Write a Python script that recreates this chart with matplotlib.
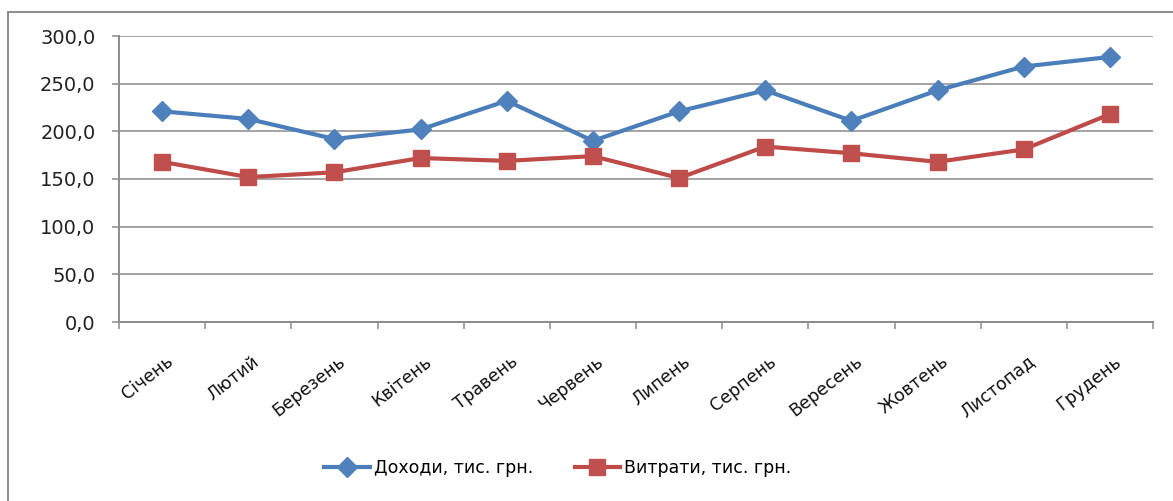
import matplotlib
matplotlib.use("Agg")
import matplotlib.pyplot as plt
from matplotlib.lines import Line2D
from matplotlib.ticker import FixedLocator, FuncFormatter
import matplotlib.transforms as mtransforms

months = ["Січень", "Лютий", "Березень", "Квітень", "Травень", "Червень",
          "Липень", "Серпень", "Вересень", "Жовтень", "Листопад", "Грудень"]
income = [221, 213, 192, 202, 232, 190, 221, 243, 211, 243, 268, 278]
expenses = [168, 152, 157, 172, 169, 174, 151, 184, 177, 168, 181, 218]
income_label = "Доходи, тис. грн."
expenses_label = "Витрати, тис. грн."
yticks = [0, 50, 100, 150, 200, 250, 300]

plt.rcParams['font.family'] = ['DejaVu Sans']

W, H = 1173, 501
fig = plt.figure(figsize=(W / 100, H / 100), dpi=100)
ax = fig.add_axes([119 / W, 1 - 322 / H, (1153 - 119) / W, (322 - 36) / H])

x = list(range(len(months)))
l1, = ax.plot(x, income, color="#4A7EBB", lw=3.0, marker="D", markersize=10.5,
              markerfacecolor="#4F81BD", markeredgecolor="#4F81BD", label=income_label,
              solid_joinstyle="round")
l2, = ax.plot(x, expenses, color="#BE4B48", lw=3.0, marker="s", markersize=12,
              markerfacecolor="#C0504D", markeredgecolor="#C0504D", label=expenses_label,
              solid_joinstyle="round")

ax.set_xlim(-0.5, len(months) - 0.5)
ax.set_ylim(0, 300)

grid_color = "#8C8C8C"
ax.yaxis.set_major_locator(FixedLocator(yticks))
ax.yaxis.set_major_formatter(FuncFormatter(lambda v, p: f"{v:.1f}".replace(".", ",")))
ax.grid(axis="y", color=grid_color, lw=1.1)
ax.set_axisbelow(True)

for s in ["top", "right"]:
    ax.spines[s].set_visible(False)
for s in ["left", "bottom"]:
    ax.spines[s].set_color(grid_color)
    ax.spines[s].set_linewidth(1.4)

ax.tick_params(axis="y", length=5, width=1.1, color=grid_color, pad=12,
               labelsize=14, labelcolor="#222222")

ax.set_xticks(x)
ax.set_xticks([i - 0.5 for i in range(len(months) + 1)], minor=True)
ax.tick_params(axis="x", which="major", length=0, pad=27)
ax.tick_params(axis="x", which="minor", length=5, width=1.1, color=grid_color)
ax.set_xticklabels(months, rotation=38, ha="right", va="center",
                   rotation_mode="anchor", fontsize=12.5, color="#111111")
offset = mtransforms.ScaledTranslation(9 / 100, 0, fig.dpi_scale_trans)
for lbl in ax.get_xticklabels():
    lbl.set_transform(lbl.get_transform() + offset)

fig.legend(handles=[l1, l2], loc="center", bbox_to_anchor=(558 / W, 1 - 468 / H),
           ncol=2, frameon=False, fontsize=12.5, handlelength=2.6,
           handletextpad=0.25, columnspacing=2.4)

border = "#8C8C8C"
fig.add_artist(Line2D([8 / W, 1], [1 - 12 / H, 1 - 12 / H], color=border, lw=1.4,
                      transform=fig.transFigure))
fig.add_artist(Line2D([8 / W, 8 / W], [0, 1 - 12 / H], color=border, lw=1.4,
                      transform=fig.transFigure))

fig.savefig("out.png", dpi=100)
